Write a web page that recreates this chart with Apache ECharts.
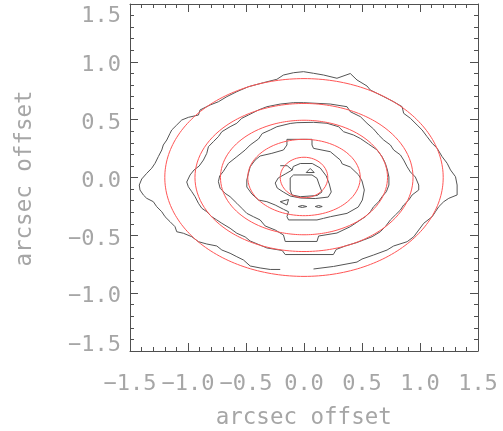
<!DOCTYPE html>
<html>
<head>
<meta charset="utf-8">
<script src="https://cdn.jsdelivr.net/npm/echarts@6/dist/echarts.min.js"></script>
<style>html,body{margin:0;padding:0;background:#fff;}#c{width:503px;height:431px;}</style>
</head>
<body>
<div id="c"></div>
<script>
// ---- data (arcsec offsets) ----
const tickValues = [-1.5, -1.0, -0.5, 0.0, 0.5, 1.0, 1.5];
const tickLabels = ['\u22121.5', '\u22121.0', '\u22120.5', '0.0', '0.5', '1.0', '1.5'];
const xTitle = 'arcsec offset';
const yTitle = 'arcsec offset';

// measured contours (black)
const contour1 = [
  [-0.205,-0.795],[-0.291,-0.795],[-0.378,-0.782],[-0.464,-0.765],[-0.522,-0.713],[-0.579,-0.685],[-0.637,-0.655],
  [-0.708,-0.627],[-0.752,-0.592],[-0.838,-0.575],[-0.910,-0.555],[-0.967,-0.512],[-1.040,-0.482],[-1.097,-0.469],
  [-1.112,-0.425],[-1.155,-0.382],[-1.198,-0.339],[-1.226,-0.296],[-1.270,-0.252],[-1.299,-0.209],[-1.356,-0.180],
  [-1.385,-0.151],[-1.414,-0.108],[-1.420,-0.065],[-1.399,-0.013],[-1.356,0.036],[-1.313,0.080],[-1.284,0.123],
  [-1.256,0.180],[-1.226,0.238],[-1.213,0.281],[-1.183,0.324],[-1.155,0.382],[-1.140,0.411],[-1.097,0.454],
  [-1.054,0.497],[-0.997,0.520],[-0.910,0.540],[-0.896,0.584],[-0.809,0.627],[-0.738,0.655],[-0.665,0.699],
  [-0.579,0.742],[-0.479,0.785],[-0.349,0.820],[-0.234,0.849],[-0.177,0.886],[-0.090,0.906],[-0.004,0.915],
  [0.082,0.901],[0.169,0.886],[0.284,0.858],[0.399,0.899],[0.457,0.843],[0.543,0.791],[0.572,0.756],
  [0.687,0.699],[0.773,0.655],[0.846,0.612],[0.859,0.555],[0.917,0.512],[0.975,0.454],[1.018,0.411],
  [1.061,0.353],[1.105,0.296],[1.148,0.252],[1.191,0.180],[1.234,0.123],[1.263,0.065],[1.306,0.007],
  [1.320,-0.065],[1.320,-0.151],[1.248,-0.180],[1.205,-0.209],[1.162,-0.252],[1.133,-0.296],[1.105,-0.339],
  [1.032,-0.396],[0.989,-0.454],[0.946,-0.512],[0.889,-0.555],[0.773,-0.592],[0.716,-0.627],[0.600,-0.670],
  [0.500,-0.705],[0.457,-0.731],[0.255,-0.769],[0.082,-0.791]
];
const contour2 = [
  [-1.011,-0.039],[-0.982,0.022],[-0.948,0.065],[-0.904,0.099],[-0.867,0.151],[-0.838,0.209],[-0.824,0.266],
  [-0.781,0.310],[-0.738,0.353],[-0.708,0.396],[-0.637,0.439],[-0.579,0.469],[-0.536,0.512],[-0.479,0.540],
  [-0.392,0.584],[-0.320,0.612],[-0.205,0.635],[-0.090,0.647],[-0.004,0.647],[0.112,0.641],[0.227,0.635],
  [0.371,0.612],[0.399,0.569],[0.486,0.526],[0.543,0.469],[0.600,0.419],[0.644,0.367],[0.687,0.324],
  [0.745,0.281],[0.773,0.238],[0.831,0.195],[0.859,0.151],[0.889,0.093],[0.917,0.048],[0.960,0.004],
  [0.989,-0.065],[0.989,-0.108],[0.932,-0.151],[0.903,-0.195],[0.859,-0.238],[0.831,-0.281],[0.788,-0.324],
  [0.745,-0.367],[0.701,-0.425],[0.658,-0.469],[0.587,-0.512],[0.514,-0.540],[0.457,-0.562],[0.356,-0.592],
  [0.278,-0.622],[0.253,-0.666],[-0.162,-0.666],[-0.188,-0.631],[-0.320,-0.609],[-0.464,-0.549],[-0.507,-0.514],
  [-0.579,-0.482],[-0.637,-0.439],[-0.708,-0.396],[-0.752,-0.367],[-0.795,-0.339],[-0.838,-0.296],[-0.881,-0.266],
  [-0.910,-0.223],[-0.939,-0.166],[-0.967,-0.123],[-0.997,-0.080],[-1.011,-0.039]
];
const contour3 = [
  [-0.738,-0.036],[-0.727,0.013],[-0.697,0.050],[-0.651,0.123],[-0.579,0.180],[-0.507,0.238],[-0.464,0.281],
  [-0.392,0.333],[-0.360,0.380],[-0.291,0.411],[-0.234,0.439],[-0.119,0.467],[-0.061,0.474],[0.082,0.477],
  [0.198,0.469],[0.298,0.439],[0.341,0.396],[0.428,0.367],[0.486,0.337],[0.555,0.290],[0.630,0.238],
  [0.673,0.180],[0.701,0.123],[0.719,0.065],[0.732,0.004],[0.732,-0.065],[0.710,-0.123],[0.673,-0.166],
  [0.644,-0.209],[0.600,-0.252],[0.572,-0.296],[0.529,-0.339],[0.486,-0.367],[0.399,-0.425],[0.284,-0.480],
  [0.126,-0.506],[0.112,-0.553],[-0.162,-0.553],[-0.177,-0.497],[-0.248,-0.454],[-0.335,-0.419],[-0.378,-0.367],
  [-0.436,-0.339],[-0.493,-0.310],[-0.536,-0.266],[-0.579,-0.223],[-0.637,-0.166],[-0.680,-0.137],[-0.723,-0.093],
  [-0.738,-0.036]
];
const contour4 = [
  [-0.493,-0.022],[-0.479,0.036],[-0.464,0.093],[-0.421,0.151],[-0.378,0.186],[-0.277,0.209],[-0.177,0.238],
  [-0.147,0.281],[-0.147,0.330],[0.069,0.330],[0.069,0.281],[0.082,0.252],[0.227,0.223],[0.313,0.151],
  [0.330,0.117],[0.399,0.091],[0.471,0.022],[0.500,-0.030],[0.520,-0.108],[0.503,-0.195],[0.468,-0.255],
  [0.371,-0.310],[0.227,-0.339],[0.169,-0.353],[0.112,-0.367],[-0.133,-0.367],[-0.147,-0.339],[-0.133,-0.296],
  [-0.177,-0.275],[-0.248,-0.238],[-0.320,-0.209],[-0.392,-0.195],[-0.449,-0.143],[-0.493,-0.082],[-0.493,-0.022]
];
const contour5 = [
  [-0.205,0.102],[-0.145,0.102],[-0.101,0.065],[-0.162,0.030],[-0.222,-0.004],[-0.248,-0.048],[-0.231,-0.091],
  [-0.179,-0.125],[-0.119,-0.160],[-0.032,-0.177],[0.097,-0.182],[0.209,-0.169],[0.235,-0.125],[0.218,-0.056],
  [0.192,0.013],[0.140,0.082],[0.071,0.121],[-0.032,0.121],[-0.093,0.095],[-0.101,0.065]
];
const contour6 = [
  [-0.119,-0.004],[-0.090,0.022],[0.069,0.022],[0.112,-0.007],[0.132,-0.065],[0.155,-0.125],[0.112,-0.156],
  [-0.032,-0.166],[-0.104,-0.151],[-0.119,-0.108],[-0.119,-0.004]
];
const blob1 = [[0.019,0.043],[0.054,0.078],[0.088,0.043],[0.019,0.043]];
const blob2 = [[-0.205,-0.209],[-0.133,-0.190],[-0.147,-0.238],[-0.205,-0.209]];
const blob3 = [[-0.050,-0.251],[-0.015,-0.242],[0.024,-0.251],[-0.015,-0.259],[-0.050,-0.251]];
const blob4 = [[0.097,-0.251],[0.127,-0.242],[0.157,-0.251],[0.127,-0.259],[0.097,-0.251]];

// fitted ellipses (red): semi-axes in arcsec, centred at origin
const ellipseA = [1.200, 0.940, 0.720, 0.485, 0.205];
const ellipseB = [0.855, 0.640, 0.495, 0.330, 0.175];

// ---- chart ----
const blackLines = [contour1, contour2, contour3, contour4, contour5, contour6, blob1, blob2, blob3, blob4];
function ellipsePoints(a, b) {
  const pts = [];
  const n = 240;
  for (let i = 0; i <= n; i++) {
    const t = 2 * Math.PI * i / n;
    pts.push([a * Math.cos(t), b * Math.sin(t)]);
  }
  return pts;
}
function fmt(v) {
  const i = tickValues.findIndex(t => Math.abs(t - v) < 1e-6);
  return i >= 0 ? tickLabels[i] : '';
}
const FONT = 'DejaVu Sans Mono';
const LBL = '#a6a6a6';
const AX = '#505050';
function axisCommon(extra) {
  return Object.assign({
    type: 'value', min: -1.5, max: 1.5, interval: 0.5,
    axisLine: { show: true, onZero: false, lineStyle: { color: AX, width: 1 } },
    axisTick: { show: true, inside: true, length: 8, lineStyle: { color: AX, width: 1 } },
    minorTick: { show: true, splitNumber: 5, length: 4, lineStyle: { color: AX, width: 1 } },
    splitLine: { show: false },
    minorSplitLine: { show: false }
  }, extra);
}
function richStyle(pad) {
  return { padding: pad, color: LBL, fontFamily: FONT, fontSize: 22 };
}
const series = [];
blackLines.forEach(d => series.push({
  type: 'line', data: d, showSymbol: false, symbol: 'none', silent: true, clip: true,
  lineStyle: { color: '#555555', width: 1 }, animation: false
}));
ellipseA.forEach((a, i) => series.push({
  type: 'line', data: ellipsePoints(a, ellipseB[i]), showSymbol: false, symbol: 'none', silent: true, clip: true,
  lineStyle: { color: '#ff5555', width: 1 }, animation: false
}));

const chart = echarts.init(document.getElementById('c'), null, { renderer: 'canvas' });
chart.setOption({
  backgroundColor: '#fff',
  animation: false,
  grid: { left: 130, right: 25, top: 4, bottom: 80, containLabel: false },
  xAxis: [
    axisCommon({ position: 'bottom',
      axisLabel: { show: true, margin: 22.5, color: LBL, fontFamily: FONT, fontSize: 22, formatter: fmt,
        showMinLabel: true, showMaxLabel: true } }),
    axisCommon({ position: 'top', axisLabel: { show: false } })
  ],
  yAxis: [
    axisCommon({ position: 'left',
      axisLabel: { show: true, margin: 9, color: LBL, fontFamily: FONT, fontSize: 22,
        showMinLabel: true, showMaxLabel: true,
        formatter: function (v) {
          const s = fmt(v);
          if (Math.abs(v - 1.5) < 1e-6) return '{t|' + s + '}';
          if (Math.abs(v + 1.5) < 1e-6) return '{b|' + s + '}';
          return '{m|' + s + '}';
        },
        rich: {
          t: richStyle([25, 0, 0, 0]),
          m: richStyle([7, 0, 0, 0]),
          b: richStyle([0, 0, 11, 0])
        } } }),
    axisCommon({ position: 'right', axisLabel: { show: false } })
  ],
  graphic: [
    { type: 'text', x: 303.75, y: 418.5, silent: true,
      style: { text: xTitle, fill: LBL, font: '22.5px "' + FONT + '"', align: 'center', verticalAlign: 'middle' } },
    { type: 'text', x: 25.2, y: 178.5, rotation: Math.PI / 2, silent: true,
      style: { text: yTitle, fill: LBL, font: '22.5px "' + FONT + '"', align: 'center', verticalAlign: 'middle' } }
  ],
  series: series
});
</script>
</body>
</html>
